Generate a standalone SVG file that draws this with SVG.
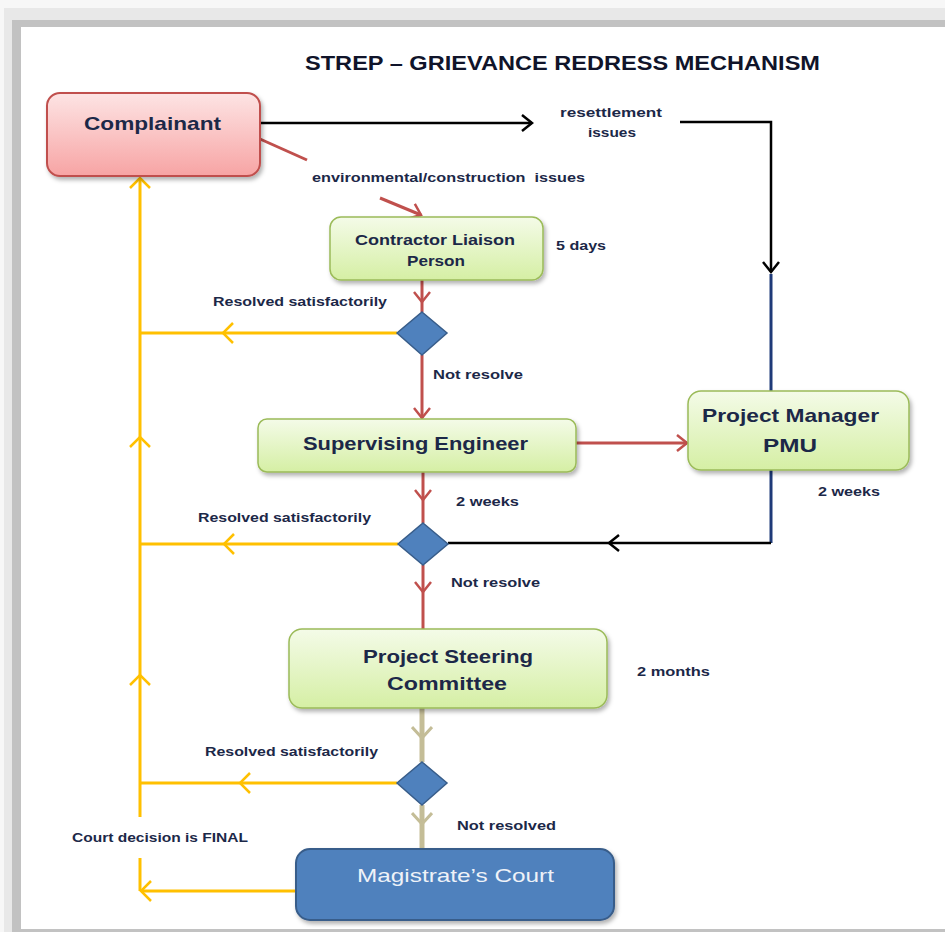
<svg xmlns="http://www.w3.org/2000/svg" width="945" height="932" viewBox="0 0 945 932">
<style>
.lbl{font-family:"Liberation Sans",Arial,sans-serif;font-weight:bold;fill:#1c2848;}
.sm{font-size:13px;}
.box{font-family:"Liberation Sans",Arial,sans-serif;font-weight:bold;fill:#1c2848;}
.red{stroke:#c0504d;stroke-width:3;fill:none;}
.blk{stroke:#000;stroke-width:2.5;fill:none;}
.blu{stroke:#1f3a78;stroke-width:3;fill:none;}
.yel{stroke:#ffc000;stroke-width:3;fill:none;}
.tan{stroke:#c4bd97;stroke-width:5;fill:none;}
.green{fill:url(#gGreen);stroke:#9bbb59;stroke-width:1.5;filter:url(#sh);}
.dia{fill:#4f81bd;stroke:#385d8a;stroke-width:1.5;}
</style>
<defs>
<linearGradient id="gGreen" x1="0" y1="0" x2="0" y2="1"><stop offset="0" stop-color="#f4fbe8"/><stop offset="1" stop-color="#d5efa4"/></linearGradient>
<linearGradient id="gPink" x1="0" y1="0" x2="0" y2="1"><stop offset="0" stop-color="#fde4e4"/><stop offset="1" stop-color="#f7a4a4"/></linearGradient>
<filter id="sh" x="-10%" y="-10%" width="130%" height="140%"><feDropShadow dx="2" dy="3" stdDeviation="2" flood-color="#000" flood-opacity="0.3"/></filter>
<marker id="aR" viewBox="0 0 13 18" refX="11" refY="9" markerWidth="13" markerHeight="18" orient="auto" markerUnits="userSpaceOnUse"><path d="M1,1 L11,9 L1,17" fill="none" stroke="#c0504d" stroke-width="2.5"/></marker>
<marker id="aK" viewBox="0 0 13 18" refX="11" refY="9" markerWidth="13" markerHeight="18" orient="auto" markerUnits="userSpaceOnUse"><path d="M1,1 L11,9 L1,17" fill="none" stroke="#000" stroke-width="2.5"/></marker>
<marker id="aY" viewBox="0 0 13 22" refX="11" refY="11" markerWidth="13" markerHeight="22" orient="auto" markerUnits="userSpaceOnUse"><path d="M1,1 L11,11 L1,21" fill="none" stroke="#ffc000" stroke-width="2.5"/></marker>
<marker id="aT" viewBox="0 0 14 22" refX="12" refY="11" markerWidth="14" markerHeight="22" orient="auto" markerUnits="userSpaceOnUse"><path d="M1,1 L12,11 L1,21" fill="none" stroke="#c4bd97" stroke-width="3"/></marker>
</defs>

<!-- frame -->
<rect x="0" y="0" width="945" height="932" fill="#f7f7f7"/>
<rect x="4" y="8" width="941" height="924" fill="#e8e8e8"/>
<rect x="12" y="20" width="933" height="912" fill="#c2c2c2"/>
<rect x="21" y="27" width="924" height="902" fill="#ffffff"/>

<text class="lbl" x="305" y="70" font-size="21" fill="#111" style="fill:#10142a" textLength="515" lengthAdjust="spacingAndGlyphs">STREP – GRIEVANCE REDRESS MECHANISM</text>

<g id="connectors">
<path class="blk" d="M260,123 H532" marker-end="url(#aK)"/>
<path class="blk" d="M680,122 H771 V272" marker-end="url(#aK)"/>
<path class="blu" d="M771,274 V391"/>
<path class="blu" d="M771,470 V543"/>
<path class="blk" d="M771,543 H609 H448" marker-mid="url(#aK)"/>
<path class="red" d="M260,139 L307,160"/>
<path class="red" d="M380,198 L421,215" marker-end="url(#aR)"/>
<path class="red" d="M422,280 V302 V312" marker-mid="url(#aR)"/>
<path class="red" d="M422,355 V418" marker-end="url(#aR)"/>
<path class="red" d="M576,443 H687" marker-end="url(#aR)"/>
<path class="red" d="M423,472 V500 V523" marker-mid="url(#aR)"/>
<path class="red" d="M423,565 V592 V629" marker-mid="url(#aR)"/>
<path class="tan" d="M422,708 V738 V762" marker-mid="url(#aT)"/>
<path class="tan" d="M422,805 V824 V849" marker-mid="url(#aT)"/>
<path class="yel" d="M397,333 H223 H140" marker-mid="url(#aY)"/>
<path class="yel" d="M398,544 H224 H140" marker-mid="url(#aY)"/>
<path class="yel" d="M397,783 H240 H140" marker-mid="url(#aY)"/>
<path class="yel" d="M140,817 V675 V437 V178" marker-mid="url(#aY)" marker-end="url(#aY)"/>
<path class="yel" d="M140,858 V891"/>
<path class="yel" d="M296,891 H141" marker-end="url(#aY)"/>
</g>

<g id="complainant">
<rect x="47" y="93" width="213" height="83" rx="13" fill="url(#gPink)" stroke="#c0504d" stroke-width="2" filter="url(#sh)"/>
<text class="box" x="84" y="130" font-size="19" textLength="137" lengthAdjust="spacingAndGlyphs">Complainant</text>
</g>

<g id="contractor">
<rect class="green" x="330" y="217" width="213" height="63" rx="11"/>
<text class="box" x="355" y="245" font-size="15" textLength="160" lengthAdjust="spacingAndGlyphs">Contractor Liaison</text>
<text class="box" x="407" y="266" font-size="15" textLength="58" lengthAdjust="spacingAndGlyphs">Person</text>
</g>

<g id="dec1"><polygon class="dia" points="422,312 447,333 422,355 397,333"/></g>

<g id="supervising">
<rect class="green" x="258" y="419" width="318" height="53" rx="9"/>
<text class="box" x="303" y="450" font-size="19" textLength="225" lengthAdjust="spacingAndGlyphs">Supervising Engineer</text>
</g>

<g id="pmu">
<rect class="green" x="688" y="391" width="221" height="79" rx="13"/>
<text class="box" x="702" y="422" font-size="19" textLength="177" lengthAdjust="spacingAndGlyphs">Project Manager</text>
<text class="box" x="763" y="452" font-size="19" textLength="54" lengthAdjust="spacingAndGlyphs">PMU</text>
</g>

<g id="dec2"><polygon class="dia" points="423,523 448,544 423,565 398,544"/></g>

<g id="steering">
<rect class="green" x="289" y="629" width="318" height="79" rx="13"/>
<text class="box" x="363" y="663" font-size="19" textLength="170" lengthAdjust="spacingAndGlyphs">Project Steering</text>
<text class="box" x="387" y="690" font-size="19" textLength="120" lengthAdjust="spacingAndGlyphs">Committee</text>
</g>

<g id="dec3"><polygon class="dia" points="422,762 447,783 422,805 397,783"/></g>

<g id="court">
<rect x="296" y="849" width="318" height="71" rx="14" fill="#4f81bd" stroke="#385d8a" stroke-width="2" filter="url(#sh)"/>
<text x="357" y="882" font-family="Liberation Sans,Arial,sans-serif" font-size="19" fill="#eef2f8" textLength="197" lengthAdjust="spacingAndGlyphs">Magistrate’s Court</text>
</g>

<g id="labels">
<text class="lbl sm" x="560" y="117" textLength="102" lengthAdjust="spacingAndGlyphs">resettlement</text>
<text class="lbl sm" x="588" y="137" textLength="48" lengthAdjust="spacingAndGlyphs">issues</text>
<text class="lbl sm" x="312" y="182" textLength="273" lengthAdjust="spacingAndGlyphs" xml:space="preserve">environmental/construction  issues</text>
<text class="lbl sm" x="556" y="250" textLength="50" lengthAdjust="spacingAndGlyphs">5 days</text>
<text class="lbl sm" x="213" y="306" textLength="174" lengthAdjust="spacingAndGlyphs">Resolved satisfactorily</text>
<text class="lbl sm" x="433" y="379" textLength="90" lengthAdjust="spacingAndGlyphs">Not resolve</text>
<text class="lbl sm" x="456" y="506" textLength="63" lengthAdjust="spacingAndGlyphs">2 weeks</text>
<text class="lbl sm" x="818" y="496" textLength="62" lengthAdjust="spacingAndGlyphs">2 weeks</text>
<text class="lbl sm" x="198" y="522" textLength="173" lengthAdjust="spacingAndGlyphs">Resolved satisfactorily</text>
<text class="lbl sm" x="451" y="587" textLength="89" lengthAdjust="spacingAndGlyphs">Not resolve</text>
<text class="lbl sm" x="637" y="676" textLength="73" lengthAdjust="spacingAndGlyphs">2 months</text>
<text class="lbl sm" x="205" y="756" textLength="173" lengthAdjust="spacingAndGlyphs">Resolved satisfactorily</text>
<text class="lbl sm" x="457" y="830" textLength="99" lengthAdjust="spacingAndGlyphs">Not resolved</text>
<text class="lbl sm" x="72" y="842" textLength="176" lengthAdjust="spacingAndGlyphs">Court decision is FINAL</text>
</g>
</svg>
